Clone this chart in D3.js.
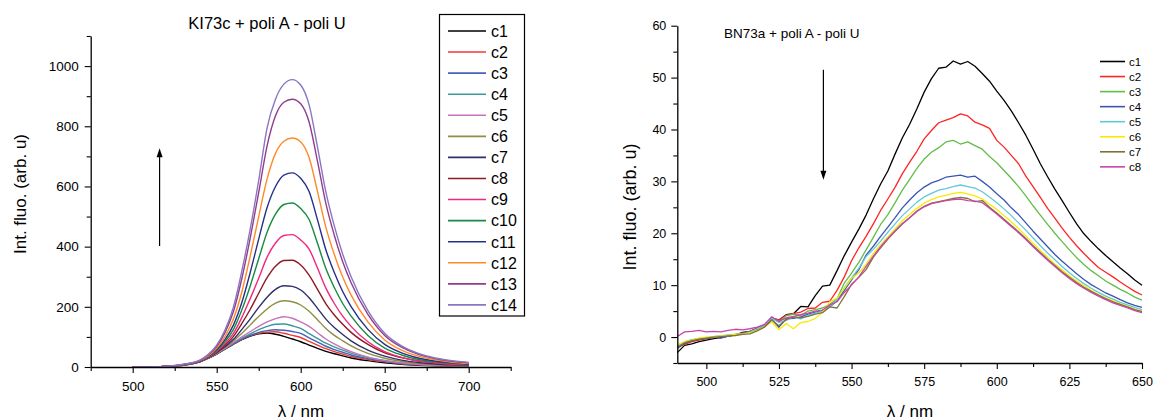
<!DOCTYPE html>
<html><head><meta charset="utf-8">
<script src="https://cdn.jsdelivr.net/npm/d3@7"></script>
<style>
html,body{margin:0;padding:0;background:#fff}
svg{display:block}
text{font-family:"Liberation Sans",Arial,sans-serif;fill:#000}
</style>
</head><body>
<svg id="chart" width="1155" height="420"></svg>
<script>
// ---------------- LEFT CHART DATA (KI73c + poli A - poli U) ----------------
const leftTitle = "KI73c + poli A - poli U";
const leftWavelengths = [500,510,520,530,540,545,550,555,560,565,570,575,580,585,590,595,600,605,610,615,620,625,630,640,650,660,670,680,690,700];
const leftNames = ["c1","c2","c3","c4","c5","c6","c7","c8","c9","c10","c11","c12","c13","c14"];
const leftColors = ["#000000","#f0383a","#4561b8","#3a9898","#c872ba","#8e8f42","#2f2f6c","#8c1c22","#f0287e","#178b42","#263088","#ff8a28","#913c8e","#8a76c0"];
const leftC1  = [0,0.5,2,6,17,29,43,59,76,91,103,110,113,109,102,93,84,73,62,52,44,37,30,21,14,9,6,4,3,2];
const leftC2  = [0,0.5,2,6,18,30,44,60,77,92,104,112,116,117,112,105,98,85,73,61,51,43,35,25,17,11,7,5,3,2];
const leftC3  = [0,0.5,2,6,18,30,45,61,78,93,105,115,121,124,122,118,112,97,83,69,58,49,40,28,19,12,8,6,4,3];
const leftC4  = [0,0.5,2,6,18,30,45,62,80,96,110,124,135,142,143,137,128,111,95,79,67,56,46,32,22,14,9,6,4,3];
const leftC5  = [0,0.5,2,6,18,30,46,63,82,100,118,135,150,161,167,162,150,135,114,93,77,63,51,33,21,14,9,6,4,3];
const leftC6  = [0,0.5,2,6,18,30,47,65,87,112,140,168,193,212,220,217,206,185,157,128,105,87,70,45,29,19,12,8,6,4];
const leftC7  = [0,0.5,2,7,18,31,48,68,92,125,160,198,232,258,270,268,256,230,195,159,131,108,87,56,36,23,15,10,7,5];
const leftC8  = [0,0.5,2,7,19,32,50,73,102,145,192,245,297,335,354,355,339,305,258,210,173,142,115,75,47,31,20,14,9,7];
const leftC9  = [0,0.5,2,7,19,33,52,78,112,165,228,295,365,412,437,440,422,392,329,262,211,169,135,84,51,32,20,14,9,7];
const leftC10 = [0,0.5,2,7,20,34,55,85,125,190,270,360,448,508,540,545,527,490,411,327,264,211,169,105,63,40,25,17,12,8];
const leftC11 = [0,0.5,2,8,20,35,58,92,140,215,315,425,530,600,638,645,627,583,489,389,314,251,201,125,75,47,30,20,14,10];
const leftC12 = [0,0.5,2,8,21,37,62,102,160,250,370,500,625,710,750,761,748,696,583,464,374,299,239,150,90,56,36,24,16,12];
const leftC13 = [0,0.5,2,8,22,40,68,115,185,295,430,580,735,835,880,890,875,814,683,543,438,350,280,175,105,66,42,28,19,14];
const leftC14 = [0,0.5,2,9,23,42,73,124,200,320,460,620,795,890,940,955,937,871,731,581,469,375,300,187,112,70,45,30,21,15];
const leftSeries = [leftC1,leftC2,leftC3,leftC4,leftC5,leftC6,leftC7,leftC8,leftC9,leftC10,leftC11,leftC12,leftC13,leftC14];
const leftXTicks = [500,550,600,650,700];
const leftXMinor = [475,525,575,625,675,725];
const leftYTicks = [0,200,400,600,800,1000];
const leftYMinor = [100,300,500,700,900,1100];
const leftArrow = {x:516, from:402, to:727};

// ---------------- RIGHT CHART DATA (BN73a + poli A - poli U) ----------------
const rightTitle = "BN73a + poli A - poli U";
const rightWavelengths = [490,492.5,495,497.5,500,502.5,505,507.5,510,512.5,515,517.5,520,522.5,525,527.5,530,532.5,535,537.5,540,542.5,545,547.5,550,552.5,555,557.5,560,562.5,565,567.5,570,572.5,575,577.5,580,582.5,585,587.5,590,592.5,595,597.5,600,602.5,605,607.5,610,612.5,615,617.5,620,622.5,625,627.5,630,632.5,635,637.5,640,642.5,645,647.5,650];
const rightNames = ["c1","c2","c3","c4","c5","c6","c7","c8"];
const rightColors = ["#000000","#ff2424","#62bd48","#3a56b2","#62c8dc","#f8ea00","#7d7238","#c845ab"];
const rightC1 = [-3.0,-1.6,-1.3,-0.9,-0.6,-0.3,-0.1,0.2,0.4,0.9,1.1,1.7,2.2,3.6,3.3,4.3,4.5,5.9,5.8,8.0,9.8,10.0,12.8,15.7,18.3,20.8,23.5,26.6,29.5,32.0,35.3,38.4,41.0,44.0,47.2,49.8,51.8,52.0,53.2,52.6,53.1,52.2,50.8,49.3,47.4,45.6,43.6,41.3,38.9,36.2,33.4,30.9,28.5,26.3,24.0,21.8,19.9,18.4,17.0,15.7,14.5,13.3,12.2,11.0,10.0];
const rightC2 = [-2.0,-1.4,-0.9,-0.6,-0.3,-0.1,0.1,0.3,0.4,0.8,1.0,1.7,2.4,3.6,3.3,4.2,4.5,4.8,5.5,5.6,6.7,6.9,9.0,11.6,14.7,17.2,19.4,21.8,24.4,26.6,28.9,31.5,33.7,35.8,38.2,39.8,41.3,41.8,42.3,43.0,42.6,41.4,40.9,40.2,37.9,36.6,35.0,33.4,31.0,29.0,26.9,24.8,22.9,21.0,19.2,17.6,16.1,14.7,13.4,12.5,11.6,10.6,9.7,8.8,8.1];
const rightC3 = [-1.8,-1.0,-0.6,-0.3,-0.2,0.1,0.2,0.3,0.5,0.6,1.1,1.5,2.2,3.8,2.9,4.1,4.4,4.2,5.0,5.3,5.6,6.3,7.4,10.4,12.3,14.4,16.8,19.2,21.7,23.6,25.9,28.3,30.4,32.5,34.3,35.6,36.5,37.6,37.9,37.2,37.6,36.9,36.2,34.8,33.6,32.1,30.6,29.0,27.2,25.3,23.5,21.7,20.0,18.4,16.8,15.3,14.0,12.8,11.8,10.8,10.0,9.2,8.5,7.7,7.1];
const rightC4 = [-2.2,-1.2,-0.8,-0.4,-0.3,0.0,-0.2,0.2,0.4,0.7,1.0,1.4,2.0,3.4,1.9,3.5,3.6,3.9,4.4,4.8,5.1,5.8,7.0,9.0,11.0,13.0,15.8,17.5,19.4,21.2,23.0,24.9,26.4,27.8,28.9,29.7,30.2,30.8,31.0,31.2,30.8,31.0,30.0,28.9,27.6,26.4,24.9,23.6,22.0,20.4,18.9,17.4,15.9,14.6,13.4,12.2,11.1,10.1,9.3,8.5,7.9,7.2,6.6,6.1,5.7];
const rightC5 = [-1.6,-0.9,-0.5,-0.3,-0.1,0.1,0.2,0.4,0.5,0.6,0.9,1.6,2.3,3.6,2.8,3.2,3.9,3.5,4.2,4.6,5.0,5.9,7.2,9.5,11.4,13.3,15.5,16.9,18.5,20.2,21.8,23.4,24.7,26.0,27.0,27.7,28.3,28.6,29.0,29.3,29.0,28.7,28.0,27.0,25.9,24.7,23.4,22.0,20.6,19.1,17.6,16.2,14.9,13.6,12.4,11.3,10.3,9.4,8.6,7.9,7.3,6.7,6.2,5.7,5.3];
const rightC6 = [-1.5,-0.9,-0.6,-0.2,0.0,0.0,0.2,0.3,0.5,0.6,0.8,1.3,2.0,2.9,1.4,2.6,1.6,2.8,3.0,3.6,4.8,6.8,7.5,9.4,11.3,12.4,14.0,16.1,17.8,19.3,20.9,22.4,23.6,24.8,25.8,26.5,27.0,27.3,27.7,27.9,27.6,27.2,26.6,25.6,24.6,23.4,22.2,20.9,19.5,18.1,16.7,15.4,14.1,12.9,11.8,10.8,9.9,9.0,8.2,7.5,7.0,6.4,5.9,5.4,5.0];
const rightC7 = [-2.0,-1.1,-0.7,-0.4,-0.2,0.0,0.1,0.2,0.3,0.5,0.6,1.2,1.9,3.3,2.2,3.4,3.9,3.7,4.0,4.4,4.7,5.8,5.6,7.8,10.2,11.5,13.0,15.4,17.2,18.9,20.4,21.8,23.0,24.3,25.2,25.8,26.1,26.4,26.7,26.9,26.7,26.1,26.3,25.0,23.9,22.7,21.5,20.3,19.0,17.6,16.3,15.0,13.8,12.6,11.5,10.5,9.6,8.8,8.1,7.4,6.8,6.3,5.8,5.3,4.9];
const rightC8 = [0.1,1.0,1.1,1.3,1.0,1.1,1.0,1.3,1.5,1.4,1.6,1.9,2.4,3.9,3.0,3.7,4.0,4.3,4.6,5.0,5.2,6.2,6.8,8.6,10.0,11.6,13.6,15.6,17.4,19.0,20.5,21.9,23.0,24.2,25.1,25.7,26.0,26.3,26.5,26.6,26.3,26.2,25.9,24.8,23.7,22.5,21.3,20.1,18.8,17.4,16.1,14.8,13.6,12.4,11.3,10.3,9.4,8.6,7.9,7.2,6.6,6.1,5.6,5.1,4.7];
const rightSeries = [rightC1,rightC2,rightC3,rightC4,rightC5,rightC6,rightC7,rightC8];
const rightXTicks = [500,525,550,575,600,625,650];
const rightXMinor = [512.5,537.5,562.5,587.5,612.5,637.5];
const rightYTicks = [0,10,20,30,40,50,60];
const rightYMinor = [-5,5,15,25,35,45,55];
const rightArrow = {x:540.3, from:51.5, to:30.3};

// sanity checks
leftSeries.forEach((s,i)=>{ if(s.length!==leftWavelengths.length) throw new Error("left "+leftNames[i]+" len "+s.length); });
rightSeries.forEach((s,i)=>{ if(s.length!==rightWavelengths.length) throw new Error("right "+rightNames[i]+" len "+s.length); });

const FONT = '"Liberation Sans", Arial, sans-serif';
const svg = d3.select("#chart");
svg.append("rect").attr("width",1155).attr("height",420).attr("fill","#fff");

function drawAxes(g, x, y, cfg){
  const y0 = y.range()[0], x0 = x.range()[0];
  const xa = g.append("g").attr("transform",`translate(0,${y0})`)
    .call(d3.axisBottom(x).tickValues(cfg.xTicks).tickSize(6).tickSizeOuter(0).tickPadding(cfg.xPad).tickFormat(d3.format("d")));
  g.append("g").attr("transform",`translate(0,${y0})`)
    .call(d3.axisBottom(x).tickValues(cfg.xMinor).tickSize(4).tickSizeOuter(0).tickFormat(""))
    .call(s=>s.select(".domain").remove());
  const ya = g.append("g").attr("transform",`translate(${x0},0)`)
    .call(d3.axisLeft(y).tickValues(cfg.yTicks).tickSize(6).tickSizeOuter(0).tickPadding(cfg.yPad).tickFormat(d3.format("d")));
  g.append("g").attr("transform",`translate(${x0},0)`)
    .call(d3.axisLeft(y).tickValues(cfg.yMinor).tickSize(4).tickSizeOuter(0).tickFormat(""))
    .call(s=>s.select(".domain").remove());
  g.selectAll(".domain").attr("stroke","#000").attr("stroke-width",1.3);
  g.selectAll(".tick line").attr("stroke","#000").attr("stroke-width",1.1);
  [xa,ya].forEach(a=>a.attr("font-family",FONT).attr("font-size",cfg.tickFont));
  g.selectAll(".tick text").attr("fill","#111");
}

function drawArrow(g, x, y, a){
  const px = x(a.x), y1 = y(a.from), y2 = y(a.to);
  const dir = y2 < y1 ? 1 : -1;
  g.append("line").attr("x1",px).attr("x2",px).attr("y1",y1).attr("y2",y2 + dir*6)
    .attr("stroke","#000").attr("stroke-width",1.2);
  g.append("path").attr("d",`M${px},${y2} L${px-3},${y2+dir*9} L${px+3},${y2+dir*9} Z`).attr("fill","#000");
}

// ---------------- LEFT ----------------
{
  const g = svg.append("g");
  const x = d3.scaleLinear().domain([475,725]).range([90.7,510.7]);
  const y = d3.scaleLinear().domain([0,1100]).range([367,36]);
  const line = d3.line().x((d,i)=>x(leftWavelengths[i])).y(d=>y(d)).curve(d3.curveMonotoneX);
  leftSeries.forEach((s,i)=>{
    g.append("path").datum(s).attr("d",line).attr("fill","none")
      .attr("stroke",leftColors[i]).attr("stroke-width",1.4).attr("stroke-linejoin","round");
  });
  drawAxes(g,x,y,{xTicks:leftXTicks,xMinor:leftXMinor,yTicks:leftYTicks,yMinor:leftYMinor,xPad:8,yPad:6,tickFont:"13.5px"});
  drawArrow(g,x,y,leftArrow);
  g.append("text").attr("x",267).attr("y",29).attr("text-anchor","middle").attr("font-size","16.5px").text(leftTitle);
  g.append("text").attr("transform","translate(26,194) rotate(-90)").attr("text-anchor","middle").attr("font-size","17px").text("Int. fluo. (arb. u)");
  g.append("text").attr("x",301).attr("y",417).attr("text-anchor","middle").attr("font-size","17px").text("λ / nm");
  const lg = g.append("g");
  lg.append("rect").attr("x",439.5).attr("y",14.5).attr("width",85).attr("height",301.5).attr("fill","#fff").attr("stroke","#000").attr("stroke-width",1.2);
  leftNames.forEach((n,i)=>{
    const yy = 31 + i*21.07;
    lg.append("line").attr("x1",448).attr("x2",486).attr("y1",yy).attr("y2",yy).attr("stroke",leftColors[i]).attr("stroke-width",1.6);
    lg.append("text").attr("x",491).attr("y",yy+5.8).attr("font-size","16px").text(n);
  });
}

// ---------------- RIGHT ----------------
{
  const g = svg.append("g");
  const x = d3.scaleLinear().domain([490,650]).range([677.3,1142]);
  const y = d3.scaleLinear().domain([-5,60]).range([363,25.7]);
  const line = d3.line().x((d,i)=>x(rightWavelengths[i])).y(d=>y(d));
  rightSeries.forEach((s,i)=>{
    g.append("path").datum(s).attr("d",line).attr("fill","none")
      .attr("stroke",rightColors[i]).attr("stroke-width",1.3).attr("stroke-linejoin","round");
  });
  drawAxes(g,x,y,{xTicks:rightXTicks,xMinor:rightXMinor,yTicks:rightYTicks,yMinor:rightYMinor,xPad:8,yPad:5,tickFont:"12.5px"});
  drawArrow(g,x,y,rightArrow);
  g.append("text").attr("x",724).attr("y",38).attr("font-size","13.5px").text(rightTitle);
  g.append("text").attr("transform","translate(636,207) rotate(-90)").attr("text-anchor","middle").attr("font-size","18px").text("Int. fluo. (arb. u)");
  g.append("text").attr("x",910).attr("y",417).attr("text-anchor","middle").attr("font-size","17px").text("λ / nm");
  rightNames.forEach((n,i)=>{
    const yy = 61.5 + i*15.05;
    g.append("line").attr("x1",1100).attr("x2",1125).attr("y1",yy).attr("y2",yy).attr("stroke",rightColors[i]).attr("stroke-width",1.6);
    g.append("text").attr("x",1129).attr("y",yy+4.2).attr("font-size","11.5px").text(n);
  });
}
</script>
</body></html>
